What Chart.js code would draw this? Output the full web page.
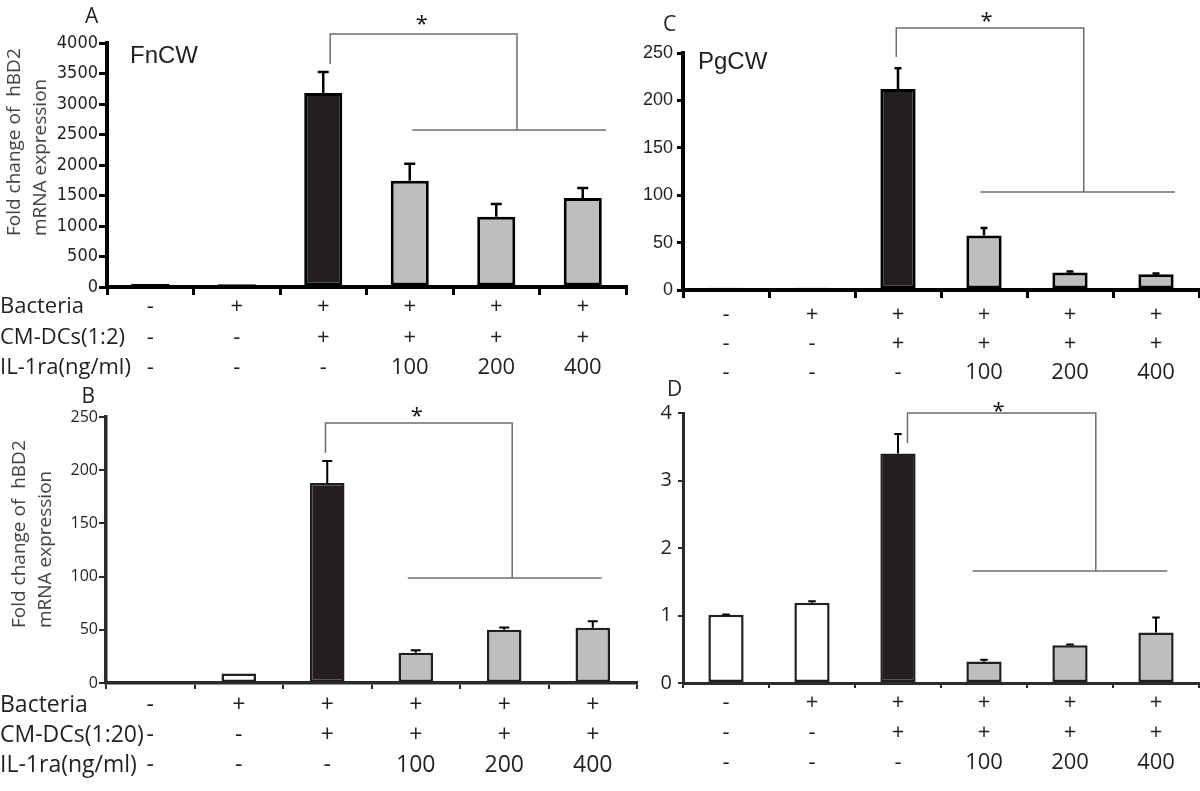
<!DOCTYPE html>
<html lang="en">
<head>
<meta charset="UTF-8">
<title>hBD2 fold change</title>
<script src="https://cdn.jsdelivr.net/npm/chart.js"></script>
<style>
    body{
        margin:0;
        background:#fff;
        width:1200px;
        height:791px;
        position:relative;
        overflow:hidden;
    }
    .panel{
        position:absolute;
    }
</style>
</head>
<body>
    <div class="panel" style="left:0;top:0"><canvas id="chartA" width="640" height="395"></canvas></div>
    <div class="panel" style="left:600px;top:0"><canvas id="chartC" width="600" height="395"></canvas></div>
    <div class="panel" style="left:0;top:380px"><canvas id="chartB" width="640" height="411"></canvas></div>
    <div class="panel" style="left:600px;top:380px"><canvas id="chartD" width="600" height="411"></canvas></div>

<script>
// treatment groups (x axis rows)
const groups = ["g1","g2","g3","g4","g5","g6"];
const bacteria = ["-","+","+","+","+","+"];
const cmDCs = ["-","-","+","+","+","+"];
const il1ra = ["-","-","-","100","200","400"];

// A: FnCW, CM-DCs 1:2
const fnA = [50, 45, 3180, 1740, 1150, 1460];
const fnAErr = [0, 0, 345, 280, 210, 165];
// B: FnCW, CM-DCs 1:20
const fnB = [0.8, 9, 188, 28.5, 50, 52];
const fnBErr = [0, 0, 20.7, 2.2, 2.2, 6];
// C: PgCW, 1:2
const pgC = [2.5, 2.5, 212, 57.5, 18.5, 16.5];
const pgCErr = [0, 0, 22, 8, 1, 1];
// D: PgCW, 1:20
const pgD = [1.01, 1.19, 3.40, 0.32, 0.56, 0.75];
const pgDErr = [0.005, 0.02, 0.29, 0.025, 0.01, 0.22];

const barColors = ["#ffffff","#ffffff","#231f20","#bcbec0","#bcbec0","#bcbec0"];

const SANS = "'Open Sans', 'Noto Sans', sans-serif";
const NARROW = "'Liberation Sans Narrow', 'Arial Narrow', 'DejaVu Sans Condensed', sans-serif";
const ARIAL = "'Liberation Sans', Arial, sans-serif";

Chart.defaults.font.family = SANS;

function centerText(ctx, str, cx, cy){
    ctx.textAlign = "left";
    ctx.textBaseline = "alphabetic";
    const m = ctx.measureText(str);
    ctx.fillText(str, cx - (m.actualBoundingBoxRight - m.actualBoundingBoxLeft)/2,
        cy + (m.actualBoundingBoxAscent - m.actualBoundingBoxDescent)/2);
}

const panelDeco = {
    id: "panelDeco",
    afterDatasetsDraw(chart){
        const p = chart.options.plugins.panelDeco;
        const ctx = chart.ctx, ys = chart.scales.y;
        const vals = chart.data.datasets[0].data;
        ctx.save();
        ctx.strokeStyle = "#000";
        ctx.lineWidth = p.errWidth;
        chart.getDatasetMeta(0).data.forEach((bar, i) => {
            const e = p.errors[i];
            if(!e) return;
            const top = ys.getPixelForValue(vals[i] + e);
            ctx.beginPath();
            ctx.moveTo(bar.x, bar.y);
            ctx.lineTo(bar.x, top);
            ctx.moveTo(bar.x - p.cap/2, top);
            ctx.lineTo(bar.x + p.cap/2, top);
            ctx.stroke();
        });
        ctx.restore();
    },
    afterDraw(chart){
        const p = chart.options.plugins.panelDeco;
        const ctx = chart.ctx, xs = chart.scales.x, ys = chart.scales.y;
        const px = v => xs.getPixelForValue(v), py = v => ys.getPixelForValue(v);
        ctx.save();
        // significance bracket
        const b = p.bracket;
        ctx.strokeStyle = "#6d6e71";
        ctx.lineWidth = 1.5;
        ctx.beginPath();
        ctx.moveTo(px(b.left), py(b.leftLow));
        ctx.lineTo(px(b.left), py(b.top));
        ctx.lineTo(px(b.right), py(b.top));
        ctx.lineTo(px(b.right), py(b.base));
        ctx.moveTo(px(b.baseFrom), py(b.base));
        ctx.lineTo(px(b.baseTo), py(b.base));
        ctx.stroke();
        ctx.fillStyle = "#111";
        ctx.font = "22px " + SANS;
        centerText(ctx, "*", px(b.starX), py(b.starY));

        // panel letter and cell wall tag
        ctx.fillStyle = "#231f20";
        ctx.font = "21px " + SANS;
        centerText(ctx, p.letter.text, p.letter.x, p.letter.y);
        if(p.tag){
            ctx.font = "24px " + ARIAL;
            ctx.textAlign = "left";
            ctx.textBaseline = "alphabetic";
            const m = ctx.measureText(p.tag.text);
            ctx.fillText(p.tag.text, p.tag.x, p.tag.y + (m.actualBoundingBoxAscent - m.actualBoundingBoxDescent)/2);
        }

        // row headers, aligned to the tick label rows
        if(p.heads){
            ctx.font = p.headSize + "px " + SANS;
            ctx.textAlign = "left";
            ctx.textBaseline = "middle";
            p.heads.forEach((h, i) => {
                const yy = xs.top + p.xTickLen + p.xTickPad + p.xLine*(i + 0.5);
                ctx.fillText(h, 0, yy);
            });
        }

        // y axis title (two lines)
        if(p.yTitle){
            ctx.fillStyle = "#444";
            ctx.font = "19px " + SANS;
            p.yTitle.lines.forEach((line, i) => {
                ctx.save();
                ctx.translate(p.yTitle.x[i], p.yTitle.y);
                ctx.rotate(-Math.PI/2);
                ctx.textAlign = "left";
                ctx.textBaseline = "middle";
                ctx.fillText(line, 0, 0);
                ctx.restore();
            });
        }
        ctx.restore();
    }
};

function makePanel(p){
    const cv = document.getElementById(p.canvas);
    const W = cv.width, H = cv.height, a = p.area;
    return new Chart(cv, {
        type: "bar",
        data: {
            labels: groups,
            datasets: [{
                data: p.values,
                backgroundColor: barColors,
                borderColor: p.barEdge,
                borderWidth: p.barBorder,
                borderSkipped: false,
                barPercentage: p.barPct,
                categoryPercentage: 1
            }]
        },
        options: {
            responsive: false,
            animation: false,
            layout: { padding: { left: 0, top: a.top, right: W - a.right, bottom: 0 } },
            plugins: {
                legend: { display: false },
                tooltip: { enabled: false },
                panelDeco: p
            },
            scales: {
                x: {
                    type: "category",
                    offset: true,
                    afterFit: s => { s.height = H - a.bottom; },
                    grid: {
                        offset: true,
                        drawOnChartArea: false,
                        tickLength: p.xTickLen,
                        lineWidth: p.tickWidth,
                        color: p.axisColor
                    },
                    border: { color: p.axisColor, width: p.axisWidth },
                    ticks: {
                        autoSkip: false,
                        maxRotation: 0,
                        padding: p.xTickPad,
                        color: "#231f20",
                        font: { family: SANS, size: p.xFontSize, lineHeight: p.xLine + "px" },
                        callback: (v, i) => [bacteria[i], cmDCs[i], il1ra[i]]
                    }
                },
                y: {
                    min: 0,
                    max: p.max,
                    afterFit: s => { s.width = a.left; },
                    grid: {
                        drawOnChartArea: false,
                        tickLength: p.yTickLen,
                        lineWidth: p.tickWidth,
                        color: p.axisColor
                    },
                    border: { color: p.axisColor, width: p.axisWidth },
                    ticks: {
                        stepSize: p.step,
                        padding: p.yTickPad,
                        color: "#231f20",
                        font: p.yFont,
                        callback: v => String(v)
                    }
                }
            }
        },
        plugins: [panelDeco]
    });
}

const yTitleLines = ["Fold change of  hBD2", "mRNA expression"];

makePanel({
    canvas: "chartA", values: fnA, errors: fnAErr, max: 4000, step: 500,
    area: { left: 107, top: 43, right: 626, bottom: 287 },
    yFont: { family: NARROW, size: 18 }, yTickLen: 8, yTickPad: 1,
    axisColor: "#000", axisWidth: 4, tickWidth: 3,
    xTickLen: 8, xTickPad: -3.25, xFontSize: 22, xLine: 30.5,
    barPct: 0.44, barBorder: 3, barEdge: "#000", errWidth: 2.5, cap: 11,
    letter: { text: "A", x: 92, y: 15 }, tag: { text: "FnCW", x: 130, y: 54 },
    heads: ["Bacteria", "CM-DCs(1:2)", "IL-1ra(ng/ml)"], headSize: 22,
    yTitle: { lines: yTitleLines, x: [15, 41], y: 236 },
    bracket: { left: 2.08, right: 4.24, top: 4147, leftLow: 3655, base: 2573, baseFrom: 3.03, baseTo: 5.27, starX: 3.14, starY: 4377 }
});

makePanel({
    canvas: "chartC", values: pgC, errors: pgCErr, max: 250, step: 50,
    area: { left: 83, top: 53, right: 599, bottom: 290 },
    yFont: { family: ARIAL, size: 18 }, yTickLen: 6, yTickPad: 4,
    axisColor: "#000", axisWidth: 4, tickWidth: 3,
    xTickLen: 8, xTickPad: 2.5, xFontSize: 22, xLine: 29,
    barPct: 0.41, barBorder: 3, barEdge: "#000", errWidth: 2.5, cap: 7,
    letter: { text: "C", x: 70, y: 23 }, tag: { text: "PgCW", x: 98, y: 63 },
    bracket: { left: 1.98, right: 4.16, top: 276.4, leftLow: 245.8, base: 103.4, baseFrom: 2.96, baseTo: 5.22, starX: 3.03, starY: 288 }
});

makePanel({
    canvas: "chartB", values: fnB, errors: fnBErr, max: 250, step: 50,
    area: { left: 106, top: 37, right: 637, bottom: 303 },
    yFont: { family: SANS, size: 16 }, yTickLen: 7, yTickPad: 1,
    axisColor: "#2b2b2b", axisWidth: 3.5, tickWidth: 2,
    xTickLen: 6, xTickPad: 1, xFontSize: 23, xLine: 30,
    barPct: 0.39, barBorder: 2.5, barEdge: "#231f20", errWidth: 2, cap: 10,
    letter: { text: "B", x: 89, y: 15 },
    heads: ["Bacteria", "CM-DCs(1:20)", "IL-1ra(ng/ml)"], headSize: 23,
    yTitle: { lines: yTitleLines, x: [20, 46], y: 248 },
    bracket: { left: 1.98, right: 4.09, top: 244.4, leftLow: 216.2, base: 98.7, baseFrom: 2.91, baseTo: 5.10, starX: 3.01, starY: 254.7 }
});

makePanel({
    canvas: "chartD", values: pgD, errors: pgDErr, max: 4, step: 1,
    area: { left: 83, top: 33, right: 599, bottom: 303 },
    yFont: { family: SANS, size: 20 }, yTickLen: 5, yTickPad: 6,
    axisColor: "#2b2b2b", axisWidth: 3, tickWidth: 2,
    xTickLen: 5, xTickPad: 0, xFontSize: 22, xLine: 30,
    barPct: 0.41, barBorder: 2.5, barEdge: "#231f20", errWidth: 2, cap: 7.5,
    letter: { text: "D", x: 75, y: 8 },
    bracket: { left: 2.11, right: 4.30, top: 4.0, leftLow: 3.556, base: 1.659, baseFrom: 2.87, baseTo: 5.13, starX: 3.17, starY: 4.089 }
});
</script>
</body>
</html>
